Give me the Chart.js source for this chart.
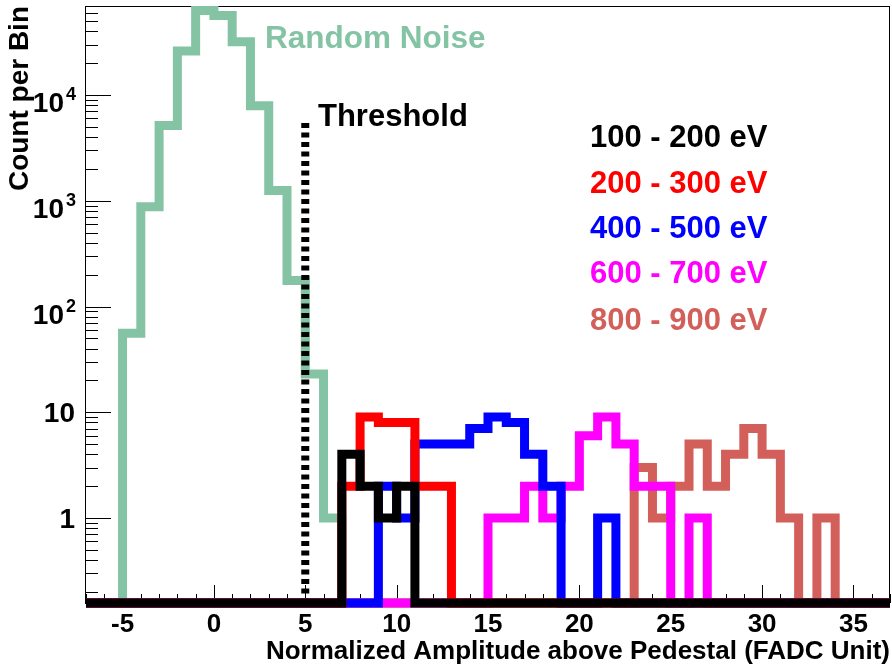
<!DOCTYPE html>
<html>
<head>
<meta charset="utf-8">
<title>Amplitude spectra</title>
<script src="https://cdn.jsdelivr.net/npm/chart.js@4.4.0/dist/chart.umd.min.js"></script>
<style>
  html, body { margin: 0; padding: 0; background: #fff; }
  #wrap { width: 892px; height: 667px; position: relative; }
</style>
</head>
<body>
<div id="wrap"><canvas id="ampChart"></canvas></div>
<script>
// histogram range (FADC units), one bin per unit
const xMin = -7;
const xMax = 37;
const yMin = 0.157;
const yMax = 69500;

// counts per bin, each list starts at the low edge given in *Start
const noiseStart = -5;
const noiseCounts = [56, 880, 5150, 26100, 63000, 56500, 31900, 7900, 1250, 176, 23, 1];

const e100Start = 7;   // 100 - 200 eV
const e100Counts = [4, 2, 1, 2];
const e200Start = 7;   // 200 - 300 eV
const e200Counts = [2, 9, 8, 8, 2, 2];
const e400Start = 9;   // 400 - 500 eV
const e400Counts = [2, 1, 5, 5, 5, 7, 9, 8, 4, 2, 0, 0, 1];
const e600Start = 15;  // 600 - 700 eV
const e600Counts = [1, 1, 2, 1, 2, 6, 9, 5, 2, 2, 0, 1];
const e800Start = 23;  // 800 - 900 eV
const e800Counts = [3, 1, 2, 5, 2, 4, 7, 4, 1, 0, 1];

const thresholdX = 5;
const thresholdTop = 6000;

const xTickValues = [-5, 0, 5, 10, 15, 20, 25, 30, 35];
const yTickValues = [1, 10, 100, 1000, 10000];
const yTickBase = ['1', '10', '10', '10', '10'];
const yTickExp = ['', '', '2', '3', '4'];

const legendLabels = ['100 - 200 eV', '200 - 300 eV', '400 - 500 eV', '600 - 700 eV', '800 - 900 eV'];
const legendColors = ['#000000', '#ff0000', '#0000ff', '#ff00ff', '#d35f5a'];
const noiseColor = '#84c4a4';

const FONT = '"Liberation Sans", Arial, Helvetica, sans-serif';

// empty bins sit on the bottom of the frame like in ROOT log plots
function histPoints(start, counts) {
    const pts = [];
    for (let e = xMin; e < xMax; e++) {
        const i = e - start;
        const c = (i >= 0 && i < counts.length) ? counts[i] : 0;
        pts.push({x: e, y: c > 0 ? c : yMin});
    }
    pts.push({x: xMax, y: pts[pts.length - 1].y});
    return pts;
}

function histSet(label, start, counts, color) {
    return {
        label: label,
        data: histPoints(start, counts),
        borderColor: color,
        borderWidth: 9,
        stepped: 'before',
        pointRadius: 0,
        fill: false,
        clip: {left: 1, top: 6, right: 1, bottom: 6}
    };
}

// frame and inward ticks, drawn under the histograms
const frameTicks = {
    id: 'frameTicks',
    beforeDatasetsDraw(chart) {
        const {ctx, chartArea: a, scales: {x, y}} = chart;
        ctx.save();
        ctx.strokeStyle = '#000';
        ctx.lineWidth = 1;
        ctx.strokeRect(a.left - 0.5, a.top + 0.5, a.right - a.left, a.bottom - a.top);
        ctx.beginPath();
        for (let v = Math.ceil(x.min); v <= x.max; v++) {
            const px = Math.round(x.getPixelForValue(v)) + 0.5;
            const len = v % 5 === 0 ? 18 : 9;
            ctx.moveTo(px, a.bottom);
            ctx.lineTo(px, a.bottom - len);
        }
        const eLo = Math.floor(Math.log10(y.min));
        const eHi = Math.ceil(Math.log10(y.max));
        for (let e = eLo; e <= eHi; e++) {
            for (let m = 1; m <= 9; m++) {
                const v = m * Math.pow(10, e);
                if (v < y.min || v > y.max) continue;
                const py = Math.round(y.getPixelForValue(v)) + 0.5;
                const len = m === 1 ? 25 : 12;
                ctx.moveTo(a.left, py);
                ctx.lineTo(a.left + len, py);
            }
        }
        ctx.stroke();
        ctx.restore();
    }
};

// y labels with superscripts plus the text notes on the plot
const textLayer = {
    id: 'textLayer',
    afterDraw(chart) {
        const {ctx, scales: {y}} = chart;
        ctx.save();
        ctx.fillStyle = '#000';
        ctx.textAlign = 'right';
        ctx.textBaseline = 'alphabetic';
        const right = 76;
        yTickValues.forEach((v, i) => {
            const py = y.getPixelForValue(v);
            if (yTickExp[i]) {
                ctx.font = 'bold 18px ' + FONT;
                const w = ctx.measureText(yTickExp[i]).width;
                ctx.fillText(yTickExp[i], right, py + 5);
                ctx.font = 'bold 28px ' + FONT;
                ctx.fillText(yTickBase[i], right - w - 2, py + 17);
            } else {
                ctx.font = 'bold 28px ' + FONT;
                ctx.fillText(yTickBase[i], right - 1, py + 10);
            }
        });

        ctx.textAlign = 'left';
        ctx.font = 'bold 31.5px ' + FONT;
        ctx.fillStyle = noiseColor;
        ctx.fillText('Random Noise', 265, 48);
        ctx.font = 'bold 31px ' + FONT;
        ctx.fillStyle = '#000';
        ctx.fillText('Threshold', 318, 126);
        const legendBase = [147, 193, 238, 283, 330];
        legendLabels.forEach((t, i) => {
            ctx.fillStyle = legendColors[i];
            ctx.fillText(t, 590, legendBase[i]);
        });
        ctx.restore();
    }
};

const ctx = document.getElementById('ampChart').getContext('2d');

// first dataset is painted last (on top)
const datasets = [
    histSet(legendLabels[0], e100Start, e100Counts, legendColors[0]),
    histSet(legendLabels[1], e200Start, e200Counts, legendColors[1]),
    histSet(legendLabels[2], e400Start, e400Counts, legendColors[2]),
    histSet(legendLabels[3], e600Start, e600Counts, legendColors[3]),
    histSet(legendLabels[4], e800Start, e800Counts, legendColors[4]),
    {
        label: 'Threshold',
        data: [{x: thresholdX, y: yMin}, {x: thresholdX, y: thresholdTop}],
        borderColor: '#000',
        borderWidth: 8,
        borderDash: [5, 4.5],
        pointRadius: 0,
        clip: false
    },
    histSet('Random Noise', noiseStart, noiseCounts, noiseColor)
];

new Chart(ctx, {
    type: 'line',
    data: {datasets: datasets},
    options: {
        responsive: true,
        maintainAspectRatio: false,
        animation: false,
        events: [],
        layout: {padding: {top: 6, right: 2, left: 0, bottom: 0}},
        plugins: {
            legend: {display: false},
            tooltip: {enabled: false}
        },
        scales: {
            x: {
                type: 'linear',
                min: xMin,
                max: xMax,
                grid: {display: false, drawTicks: false},
                border: {display: false},
                afterBuildTicks: s => { s.ticks = xTickValues.map(v => ({value: v})); },
                afterFit: s => { s.height = 64; },
                ticks: {
                    autoSkip: false,
                    maxRotation: 0,
                    padding: 6,
                    color: '#000',
                    font: {family: FONT, size: 26, weight: 'bold'}
                },
                title: {
                    display: true,
                    text: 'Normalized Amplitude above Pedestal (FADC Unit)',
                    align: 'end',
                    color: '#000',
                    padding: {top: 0, bottom: 0},
                    font: {family: FONT, size: 26, weight: 'bold'}
                }
            },
            y: {
                type: 'logarithmic',
                min: yMin,
                max: yMax,
                grid: {display: false, drawTicks: false},
                border: {display: false},
                ticks: {display: false},
                afterFit: s => { s.width = 86; },
                title: {
                    display: true,
                    text: 'Count per Bin',
                    align: 'end',
                    color: '#000',
                    padding: {top: 3, bottom: 0},
                    font: {family: FONT, size: 28, weight: 'bold'}
                }
            }
        }
    },
    plugins: [frameTicks, textLayer]
});
</script>
</body>
</html>
